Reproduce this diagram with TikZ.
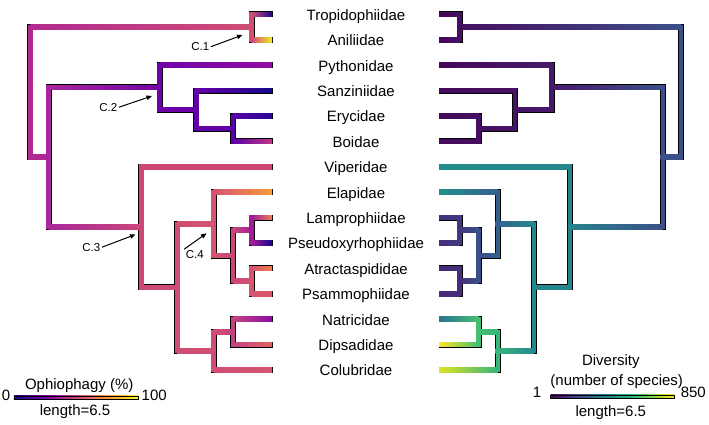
\documentclass[tikz,border=0pt]{standalone}
\usepackage{fontspec}
\setmainfont{Liberation Sans}
\usetikzlibrary{arrows.meta,calc}

% colour maps for the legends
\definecolor{pm0}{HTML}{0D0887}\definecolor{pm1}{HTML}{41049D}\definecolor{pm2}{HTML}{6A00A8}
\definecolor{pm3}{HTML}{8F0DA4}\definecolor{pm4}{HTML}{B12A90}\definecolor{pm5}{HTML}{CC4778}
\definecolor{pm6}{HTML}{E16462}\definecolor{pm7}{HTML}{F2844B}\definecolor{pm8}{HTML}{FCA636}
\definecolor{pm9}{HTML}{FCCE25}\definecolor{pm10}{HTML}{F0F921}
\definecolor{vm0}{HTML}{440154}\definecolor{vm1}{HTML}{482475}\definecolor{vm2}{HTML}{414487}
\definecolor{vm3}{HTML}{355F8D}\definecolor{vm4}{HTML}{2A788E}\definecolor{vm5}{HTML}{21918C}
\definecolor{vm6}{HTML}{22A884}\definecolor{vm7}{HTML}{44BF70}\definecolor{vm8}{HTML}{7AD151}
\definecolor{vm9}{HTML}{BDDF26}\definecolor{vm10}{HTML}{FDE725}
\pgfdeclarehorizontalshading{plasma}{100bp}{color(0bp)=(pm0); color(25bp)=(pm0); color(30bp)=(pm1);
  color(35bp)=(pm2); color(40bp)=(pm3); color(45bp)=(pm4); color(50bp)=(pm5); color(55bp)=(pm6);
  color(60bp)=(pm7); color(65bp)=(pm8); color(70bp)=(pm9); color(75bp)=(pm10); color(100bp)=(pm10)}
\pgfdeclarehorizontalshading{viridis}{100bp}{color(0bp)=(vm0); color(25bp)=(vm0); color(30bp)=(vm1);
  color(35bp)=(vm2); color(40bp)=(vm3); color(45bp)=(vm4); color(50bp)=(vm5); color(55bp)=(vm6);
  color(60bp)=(vm7); color(65bp)=(vm8); color(70bp)=(vm9); color(75bp)=(vm10); color(100bp)=(vm10)}

% ophiophagy (left tree)
\definecolor{plroot}{HTML}{B12A90}\definecolor{plc1}{HTML}{D14D73}\definecolor{pltro}{HTML}{1D078E}
\definecolor{plani}{HTML}{F2EE22}\definecolor{pln48}{HTML}{A8279A}\definecolor{plc2}{HTML}{7103A7}
\definecolor{plpyt}{HTML}{8F0DA4}\definecolor{pln196}{HTML}{6201A6}\definecolor{plsan}{HTML}{160789}
\definecolor{pleb}{HTML}{5A01A5}\definecolor{plery}{HTML}{270692}\definecolor{plboi}{HTML}{BE3884}
\definecolor{plc3}{HTML}{CC4778}\definecolor{plvip}{HTML}{CC4778}\definecolor{pln177}{HTML}{D04D74}
\definecolor{plc4}{HTML}{D5546F}\definecolor{plela}{HTML}{F89C3C}\definecolor{plla}{HTML}{CA4579}
\definecolor{pllp}{HTML}{A01C9A}\definecolor{pllam}{HTML}{EF7E50}\definecolor{plpse}{HTML}{150788}
\definecolor{plap}{HTML}{D7566D}\definecolor{platr}{HTML}{EF7E50}\definecolor{plpsa}{HTML}{D7566D}
\definecolor{plcn}{HTML}{D04D74}\definecolor{plnd}{HTML}{C54180}\definecolor{plnat}{HTML}{8F0DA4}
\definecolor{pldip}{HTML}{E16462}\definecolor{plcol}{HTML}{D5546F}
% diversity (right tree)
\definecolor{vrroot}{HTML}{3C4F89}\definecolor{vrc1}{HTML}{460F61}\definecolor{vrtro}{HTML}{44075A}
\definecolor{vrani}{HTML}{44075A}\definecolor{vrn48}{HTML}{3C4F89}\definecolor{vrc2}{HTML}{47196B}
\definecolor{vrpyt}{HTML}{44075A}\definecolor{vrn196}{HTML}{461262}\definecolor{vrsan}{HTML}{450A5C}
\definecolor{vreb}{HTML}{460F61}\definecolor{vrery}{HTML}{450A5C}\definecolor{vrboi}{HTML}{450A5C}
\definecolor{vrc3}{HTML}{26848D}\definecolor{vrvip}{HTML}{238C8C}\definecolor{vrn177}{HTML}{24898D}
\definecolor{vrc4}{HTML}{355F8D}\definecolor{vrela}{HTML}{21918C}\definecolor{vrla}{HTML}{3C4F89}
\definecolor{vrlp}{HTML}{443780}\definecolor{vrlam}{HTML}{452F7D}\definecolor{vrpse}{HTML}{452F7D}
\definecolor{vrap}{HTML}{452F7D}\definecolor{vratr}{HTML}{472A7A}\definecolor{vrpsa}{HTML}{472A7A}
\definecolor{vrcn}{HTML}{36B678}\definecolor{vrnd}{HTML}{44BF70}\definecolor{vrnat}{HTML}{2B738E}
\definecolor{vrdip}{HTML}{FDE725}\definecolor{vrcol}{HTML}{DDE326}

\begin{document}
\begin{tikzpicture}[x=1pt, y=-1pt,
  font=\fontsize{15}{18}\selectfont,
  outline/.style={draw=black, line width=6pt, line cap=rect},
  stem/.style={line width=4.6pt, line cap=rect},
  taxon/.style={anchor=base, inner sep=0pt},
  clade/.style={font=\fontsize{11.5}{13}\selectfont, inner sep=1.5pt},
  cue/.style={-{Triangle[length=5.5pt, width=4.5pt]}, line width=1pt},
  cbar/.style={draw=black, line width=0.5pt, minimum width=124pt, minimum height=3.5pt, inner sep=0pt, shade},
  keytext/.style={anchor=base, inner sep=0pt}
]
\useasboundingbox (0,0) rectangle (709,424);

% tips and taxon names
\foreach \n/\t [count=\i from 0] in {tro/Tropidophiidae, ani/Aniliidae, pyt/Pythonidae, san/Sanziniidae,
    ery/Erycidae, boi/Boidae, vip/Viperidae, ela/Elapidae, lam/Lamprophiidae, pse/Pseudoxyrhophiidae,
    atr/Atractaspididae, psa/Psammophiidae, nat/Natricidae, dip/Dipsadidae, col/Colubridae} {
  \coordinate (L\n) at (269.8, {14.3+25.4*\i});
  \coordinate (R\n) at (441.5, {14.3+25.4*\i});
  \node[taxon] (T\n) at (356, {20.2+25.4*\i}) {\t};
}
% inner nodes, the right tree mirrors the left one
\foreach \n/\x/\y in {root/30.3/92.1, c1/251.7/27, n48/48.5/157.2, c2/159.7/87.3, n196/196.2/109.55,
    eb/232.8/128.6, c3/141.2/227, n177/177.2/287.35, c4/213.5/223.85, la/232.8/255.6, lp/251.7/230.2,
    ap/251.7/281, cn/213.5/350.85, nd/232.8/331.8} {
  \coordinate (L\n) at (\x, \y);
  \coordinate (R\n) at ({711.3-\x}, \y);
}

\def\edges{root/c1, root/n48, c1/tro, c1/ani, n48/c2, n48/c3, c2/pyt, c2/n196, n196/san, n196/eb,
  eb/ery, eb/boi, c3/vip, c3/n177, n177/c4, n177/cn, c4/ela, c4/la, la/lp, la/ap, lp/lam, lp/pse,
  ap/atr, ap/psa, cn/nd, cn/col, nd/nat, nd/dip}
\foreach \p/\c in \edges \draw[outline] (L\p) |- (L\c) (R\p) |- (R\c);
\foreach \p/\c in \edges {
  \shade[left color=pl\p, right color=pl\c] ($(L\p |- L\c)+(0pt,2.3pt)$) rectangle ($(L\c)+(2.3pt,-2.3pt)$);
  \shade[left color=vr\c, right color=vr\p] ($(R\c)+(-2.3pt,2.3pt)$) rectangle ($(R\p |- R\c)+(0pt,-2.3pt)$);
}
\foreach \p/\c in \edges {
  \draw[stem, draw=pl\p] (L\p) -- (L\p |- L\c);
  \draw[stem, draw=vr\p] (R\p) -- (R\p |- R\c);
}

% clade marks
\node[clade] (C1) at (200.2, 46.7) {C.1};
\node[clade] (C2) at (108.3, 107.2) {C.2};
\node[clade] (C3) at (91.3, 247.2) {C.3};
\node[clade] (C4) at (194.8, 255) {C.4};
\coordinate (a1) at (242.5, 35);
\coordinate (a2) at (152, 96);
\coordinate (a3) at (135.5, 234.5);
\coordinate (a4) at (206.5, 233.3);
\draw[cue] (C1.east) -- (a1);
\draw[cue] (C2.east) -- (a2);
\draw[cue] (C3.east) -- (a3);
\draw[cue] (C4.north west) -- (a4);

% legends
\node[cbar, shading=plasma] (lbar) at (75.9, 397.7) {};
\node[keytext] (ltitle) at (79.2, 389.5) {Ophiophagy (\%)};
\node[keytext] (lmin) at (6, 400.5) {0};
\node[keytext] (lmax) at (154.2, 400.5) {100};
\node[keytext] (llen) at (75, 415.8) {length=6.5};

\node[cbar, shading=viridis] (rbar) at (612.5, 396.7) {};
\node[keytext] (rtitle) at (610.8, 365.7) {Diversity};
\node[keytext] (rsub) at (616.7, 385) {(number of species)};
\node[keytext] (rmin) at (537, 397.7) {1};
\node[keytext] (rmax) at (693.3, 397.7) {850};
\node[keytext] (rlen) at (610.8, 416.5) {length=6.5};
\end{tikzpicture}
\end{document}
